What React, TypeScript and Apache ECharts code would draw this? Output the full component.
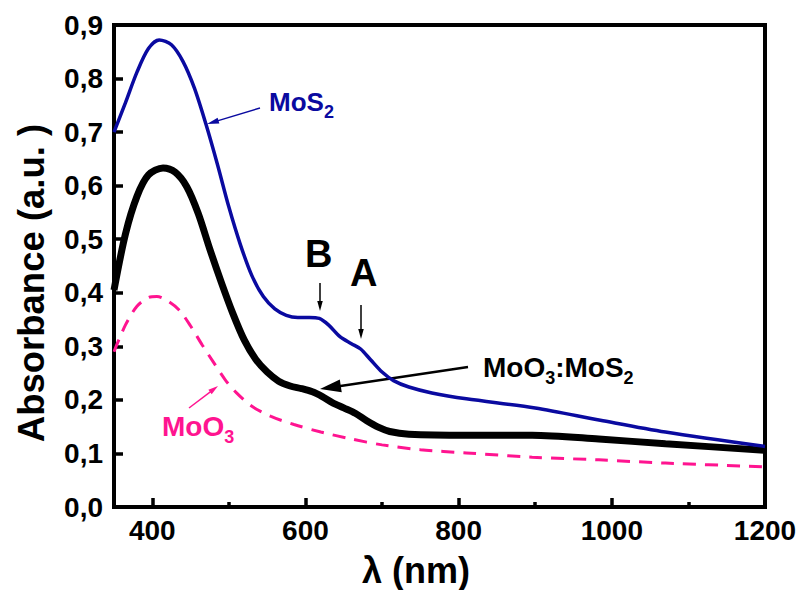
import { useEffect, useRef } from 'react';
import * as echarts from 'echarts';

// Wavelength (nm) and absorbance (a.u.)
const lambdaMoS2 = [350, 365, 380, 395, 409, 425, 440, 455, 470, 485, 500, 515, 530, 545, 560, 575, 590, 605, 618, 630, 645, 660, 672, 685, 700, 715, 735, 765, 810, 900, 985, 1070, 1200];
const absMoS2 = [0.700, 0.755, 0.812, 0.856, 0.872, 0.863, 0.832, 0.782, 0.715, 0.640, 0.560, 0.490, 0.432, 0.393, 0.370, 0.358, 0.354, 0.354, 0.352, 0.340, 0.318, 0.305, 0.295, 0.275, 0.252, 0.236, 0.224, 0.213, 0.202, 0.185, 0.162, 0.140, 0.113];

const lambdaMix = [350, 365, 380, 395, 414, 430, 445, 460, 475, 490, 505, 520, 535, 550, 565, 580, 595, 609, 622, 635, 650, 665, 680, 695, 710, 735, 810, 896, 983, 1070, 1200];
const absMix = [0.405, 0.510, 0.580, 0.620, 0.633, 0.625, 0.598, 0.548, 0.482, 0.420, 0.362, 0.312, 0.276, 0.252, 0.235, 0.226, 0.221, 0.215, 0.206, 0.195, 0.185, 0.175, 0.161, 0.149, 0.141, 0.136, 0.134, 0.134, 0.127, 0.118, 0.106];

const lambdaMoO3 = [350, 365, 380, 395, 406, 420, 435, 450, 465, 480, 495, 510, 530, 555, 585, 620, 660, 700, 750, 810, 896, 983, 1070, 1200];
const absMoO3 = [0.290, 0.340, 0.375, 0.391, 0.393, 0.385, 0.368, 0.338, 0.303, 0.270, 0.238, 0.213, 0.188, 0.169, 0.154, 0.140, 0.127, 0.116, 0.107, 0.101, 0.093, 0.088, 0.082, 0.075];

const xMajorTicks = [400, 600, 800, 1000, 1200];
const xMinorTicks = [500, 700, 900, 1100];

const BLUE = '#0a0aa0';
const PINK = '#ff1490';
const FONT = '"Liberation Sans", Arial, Helvetica, sans-serif';

function zip(xs: number[], ys: number[]) {
  return xs.map((x, i) => [x, ys[i]]);
}

function arrow(x1: number, y1: number, x2: number, y2: number, color: string, width: number, headLen: number, headW: number) {
  const dx = x2 - x1;
  const dy = y2 - y1;
  const len = Math.sqrt(dx * dx + dy * dy);
  const ux = dx / len;
  const uy = dy / len;
  const bx = x2 - ux * headLen;
  const by = y2 - uy * headLen;
  const nx = -uy;
  const ny = ux;
  return {
    type: 'group',
    children: [
      {
        type: 'line',
        shape: { x1, y1, x2: bx + ux * 2, y2: by + uy * 2 },
        style: { stroke: color, lineWidth: width },
      },
      {
        type: 'polygon',
        shape: {
          points: [
            [x2, y2],
            [bx + (nx * headW) / 2, by + (ny * headW) / 2],
            [bx - (nx * headW) / 2, by - (ny * headW) / 2],
          ],
        },
        style: { fill: color },
      },
    ],
  };
}

function txt(x: number, y: number, text: string, size: number, color: string, align = 'left', rotation = 0) {
  return {
    type: 'text',
    x,
    y,
    rotation,
    style: {
      text,
      fill: color,
      font: `bold ${size}px ${FONT}`,
      textAlign: align,
      textVerticalAlign: 'middle',
    },
  };
}

export default function App() {
  const ref = useRef<HTMLDivElement>(null);

  useEffect(() => {
    const chart = echarts.init(ref.current!, null, { renderer: 'svg' });
    const axisLabelStyle = { color: '#000', fontSize: 28, fontWeight: 'bold', fontFamily: FONT };
    chart.setOption({
      animation: false,
      backgroundColor: '#fff',
      grid: {
        left: 114,
        right: 32,
        top: 25,
        bottom: 83,
        show: true,
        borderColor: '#000',
        borderWidth: 4,
        backgroundColor: 'transparent',
        containLabel: false,
        outerBoundsMode: 'none',
      },
      xAxis: [
        {
          type: 'value',
          min: 350,
          max: 1200,
          position: 'bottom',
          axisLine: { show: true, lineStyle: { color: '#000', width: 4 } },
          axisTick: { show: true, inside: true, length: 9, lineStyle: { color: '#000', width: 3.5 }, customValues: xMajorTicks },
          axisLabel: { ...axisLabelStyle, margin: 9, customValues: xMajorTicks, formatter: (v: number) => String(v) },
          splitLine: { show: false },
        },
        {
          type: 'value',
          min: 350,
          max: 1200,
          position: 'bottom',
          axisLine: { show: false },
          axisTick: { show: true, inside: true, length: 5, lineStyle: { color: '#000', width: 3.5 }, customValues: xMinorTicks },
          axisLabel: { show: false },
          splitLine: { show: false },
        },
      ],
      yAxis: {
        type: 'value',
        min: 0,
        max: 0.9,
        interval: 0.1,
        axisLine: { show: true, lineStyle: { color: '#000', width: 4 } },
        axisTick: { show: true, inside: true, length: 9, lineStyle: { color: '#000', width: 3.5 } },
        axisLabel: {
          ...axisLabelStyle,
          margin: 11,
          formatter: (v: number) => v.toFixed(1).replace('.', ','),
        },
        splitLine: { show: false },
      },
      series: [
        {
          name: 'MoO3',
          type: 'line',
          data: zip(lambdaMoO3, absMoO3),
          smooth: 0.3,
          showSymbol: false,
          lineStyle: { color: PINK, width: 3, type: [13, 9] },
          z: 2,
        },
        {
          name: 'MoO3:MoS2',
          type: 'line',
          data: zip(lambdaMix, absMix),
          smooth: 0.3,
          showSymbol: false,
          lineStyle: { color: '#000', width: 7 },
          z: 3,
        },
        {
          name: 'MoS2',
          type: 'line',
          data: zip(lambdaMoS2, absMoS2),
          smooth: 0.3,
          showSymbol: false,
          lineStyle: { color: BLUE, width: 3.5 },
          z: 4,
        },
      ],
      graphic: [
        // axis titles
        txt(31, 283, 'Absorbance (a.u. )', 36.5, '#000', 'center', Math.PI / 2),
        txt(416, 570, 'λ (nm)', 36, '#000', 'center'),
        // MoS2 label
        txt(269, 101.5, 'MoS', 26, BLUE),
        txt(324, 112, '2', 18, BLUE),
        arrow(260, 108, 207, 124, BLUE, 1.5, 12, 6),
        // B and A
        txt(305, 253.5, 'B', 38, '#000'),
        txt(350, 272.5, 'A', 38, '#000'),
        arrow(320, 283, 320, 311, '#000', 1.5, 10, 5.5),
        arrow(361, 305, 361, 339, '#000', 1.5, 10, 5.5),
        // MoO3:MoS2 label
        txt(483, 367.8, 'MoO', 28, '#000'),
        txt(545.2, 378, '3', 18, '#000'),
        txt(555.2, 367.8, ':MoS', 28, '#000'),
        txt(623.6, 378, '2', 18, '#000'),
        arrow(468, 367, 320, 389, '#000', 2.5, 21, 13),
        // MoO3 label
        txt(162, 426.8, 'MoO', 28, PINK),
        txt(224.2, 437, '3', 18, PINK),
        arrow(189, 408, 218, 386, PINK, 1.5, 10, 5.5),
      ],
    });
    return () => chart.dispose();
  }, []);

  return <div ref={ref} style={{ position: 'absolute', left: 0, top: 0, width: 797, height: 590 }} />;
}
